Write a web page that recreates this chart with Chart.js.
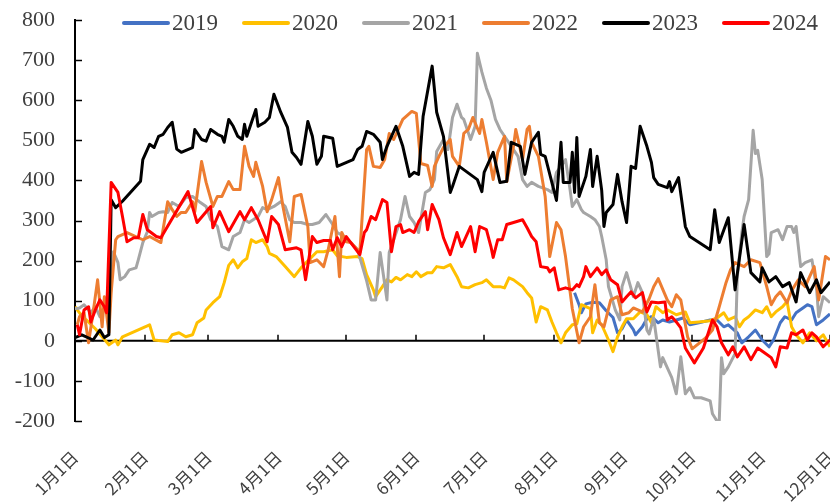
<!DOCTYPE html>
<html>
<head>
<meta charset="utf-8">
<script src="https://cdn.jsdelivr.net/npm/chart.js@4.4.1/dist/chart.umd.min.js"></script>
<style>
  html, body { margin: 0; padding: 0; background: #fff; }
  #wrap { width: 830px; height: 504px; }
</style>
</head>
<body>
<div id="wrap"><canvas id="chart" width="830" height="504"></canvas></div>
<script>
// ----- Data (day of year, value) -----
const years = ["2019", "2020", "2021", "2022", "2023", "2024"];
const monthDays = [0, 31, 59, 90, 120, 151, 181, 212, 243, 273, 304, 334];
const monthLabels = ["1月1日", "2月1日", "3月1日", "4月1日", "5月1日", "6月1日",
  "7月1日", "8月1日", "9月1日", "10月1日", "11月1日", "12月1日"];
const yTicks = [-200, -100, 0, 100, 200, 300, 400, 500, 600, 700, 800];

const s2019 = [[221,120],[223,90],[224,70],[226,92],[229,96],[232,95],[235,75],[238,58],[240,20],[242,30],[244,52],[247,28],[248,15],[251,35],[253,55],[255,60],[258,45],[260,52],[263,47],[266,52],[269,57],[272,40],[276,45],[281,52],[284,52],[287,35],[289,40],[293,20],[295,-5],[298,10],[301,27],[304,2],[307,-15],[309,2],[312,45],[314,60],[317,52],[319,70],[322,82],[324,90],[326,85],[328,40],[331,52],[334,67]];

const s2020 = [[0,85],[1,77],[4,55],[5,52],[9,30],[12,10],[15,-10],[18,2],[19,-10],[21,10],[33,40],[35,2],[41,-2],[43,15],[46,20],[49,10],[52,15],[54,45],[57,57],[58,77],[61,95],[64,110],[66,145],[68,188],[70,202],[72,182],[74,197],[76,205],[78,252],[80,245],[83,252],[85,235],[86,218],[89,210],[93,185],[97,160],[100,182],[104,205],[107,222],[110,222],[114,227],[116,212],[120,208],[125,210],[127,205],[129,165],[132,127],[133,110],[136,135],[138,152],[140,147],[142,158],[144,152],[147,165],[149,160],[151,172],[153,160],[156,170],[158,170],[160,185],[163,182],[166,190],[169,160],[171,135],[174,132],[177,140],[180,145],[182,152],[185,135],[188,135],[190,132],[192,157],[194,152],[198,135],[200,120],[202,107],[204,47],[206,85],[209,77],[211,47],[213,20],[215,-5],[217,20],[220,40],[222,42],[224,90],[228,80],[229,20],[231,52],[233,40],[236,2],[238,-27],[240,10],[242,35],[244,55],[247,55],[250,72],[253,65],[255,45],[257,85],[260,70],[262,77],[266,65],[270,72],[272,45],[276,47],[281,50],[284,57],[287,70],[289,52],[292,60],[294,35],[296,52],[298,60],[301,77],[304,70],[306,85],[308,60],[310,72],[313,85],[315,98],[317,35],[319,15],[322,-5],[325,20],[328,0],[331,15],[334,-15]];

const s2021 = [[0,80],[2,82],[4,90],[7,70],[9,85],[11,60],[13,80],[15,60],[17,222],[19,195],[20,152],[22,160],[24,177],[27,182],[28,202],[30,245],[32,272],[33,320],[34,310],[37,320],[39,322],[41,320],[43,345],[46,335],[49,357],[52,360],[55,347],[58,335],[60,302],[63,285],[65,235],[68,227],[70,260],[73,270],[75,302],[77,295],[81,310],[83,332],[85,327],[88,335],[91,347],[93,335],[95,302],[97,295],[100,295],[103,290],[105,290],[108,295],[111,315],[114,290],[116,270],[119,260],[122,245],[125,227],[129,150],[131,102],[133,102],[135,220],[138,102],[139,220],[141,252],[144,302],[146,360],[148,310],[150,295],[152,270],[155,370],[157,377],[159,402],[160,472],[163,502],[165,477],[167,557],[169,590],[171,557],[172,552],[175,502],[177,535],[178,717],[180,670],[182,630],[184,600],[186,552],[188,527],[191,502],[193,485],[196,460],[198,402],[200,385],[202,395],[205,385],[209,377],[211,370],[213,420],[215,435],[217,452],[219,377],[220,335],[222,352],[224,327],[225,320],[228,310],[230,302],[232,285],[233,260],[235,202],[236,135],[239,77],[241,52],[242,135],[244,170],[247,110],[249,145],[251,120],[253,27],[254,17],[256,57],[259,-65],[260,-42],[262,-67],[264,-92],[266,-132],[268,-40],[270,-132],[272,-117],[274,-142],[277,-142],[281,-150],[282,-182],[284,-200],[285,-200],[286,-42],[287,-82],[289,-65],[292,-32],[293,160],[295,270],[296,310],[298,352],[300,525],[301,467],[302,475],[304,402],[306,210],[307,217],[308,270],[311,277],[313,252],[315,285],[317,285],[318,270],[319,285],[321,185],[323,195],[326,202],[328,135],[329,60],[331,110],[334,95]];

const s2022 = [[1,40],[2,60],[4,70],[6,-5],[8,70],[10,152],[12,35],[13,110],[15,20],[16,120],[18,252],[19,260],[23,270],[30,252],[33,260],[38,245],[41,347],[43,327],[45,310],[47,320],[49,320],[52,347],[53,322],[56,447],[58,395],[61,335],[63,360],[65,360],[68,397],[70,377],[73,377],[75,485],[77,435],[79,410],[80,445],[83,385],[85,322],[87,352],[90,407],[92,335],[95,247],[97,360],[100,365],[103,285],[104,195],[107,202],[110,185],[112,227],[115,310],[117,160],[118,270],[120,247],[122,245],[125,227],[126,220],[129,477],[130,485],[132,435],[135,432],[137,452],[139,517],[141,502],[145,552],[149,572],[151,567],[153,442],[156,437],[158,385],[159,435],[161,460],[163,482],[166,502],[167,460],[170,435],[172,517],[174,527],[176,557],[179,517],[180,552],[182,495],[185,402],[187,470],[190,510],[191,397],[194,485],[195,527],[198,452],[200,527],[201,535],[202,495],[205,460],[208,360],[210,210],[213,295],[215,277],[217,210],[220,80],[223,-5],[225,35],[228,60],[230,140],[232,45],[234,35],[237,102],[240,110],[242,65],[245,70],[247,82],[251,72],[254,105],[256,135],[258,155],[262,102],[264,85],[266,115],[268,102],[271,10],[273,-20],[279,7],[282,27],[285,85],[288,145],[290,177],[292,195],[296,185],[299,202],[303,195],[306,135],[308,90],[310,110],[312,122],[315,95],[317,125],[320,152],[323,135],[327,185],[329,102],[332,210],[334,202]];

const s2023 = [[0,8],[3,15],[8,2],[11,27],[13,8],[15,15],[16,352],[18,332],[21,348],[29,398],[30,452],[33,490],[35,482],[37,510],[39,515],[41,532],[43,545],[45,478],[47,470],[52,482],[53,527],[56,502],[58,498],[60,527],[63,515],[65,510],[66,495],[68,552],[70,535],[72,510],[74,502],[75,540],[76,510],[80,577],[81,535],[84,545],[86,557],[88,615],[91,570],[94,532],[96,470],[98,457],[100,440],[103,547],[105,510],[107,440],[109,460],[110,510],[114,505],[116,435],[123,452],[125,477],[127,485],[129,522],[132,515],[135,495],[136,452],[138,485],[142,535],[145,485],[148,410],[150,420],[152,415],[154,560],[158,685],[160,570],[163,510],[166,370],[167,385],[170,435],[178,402],[180,372],[181,420],[185,470],[188,395],[191,398],[193,495],[197,485],[199,415],[202,495],[205,520],[206,465],[208,460],[213,350],[215,495],[216,395],[219,395],[220,470],[221,370],[222,507],[223,360],[226,410],[228,477],[229,385],[231,460],[233,375],[234,285],[235,320],[238,340],[240,415],[242,347],[244,295],[246,435],[248,430],[250,535],[253,485],[255,445],[256,407],[258,390],[262,382],[263,397],[264,372],[267,407],[270,285],[272,260],[281,227],[283,327],[285,245],[289,307],[292,127],[296,290],[299,170],[303,147],[304,182],[307,147],[310,160],[313,135],[316,145],[319,97],[321,170],[325,120],[328,152],[330,120],[334,147]];

const s2024 = [[1,40],[2,15],[4,77],[6,85],[7,47],[9,77],[11,102],[13,85],[14,70],[16,395],[19,370],[21,310],[23,247],[26,257],[28,257],[30,315],[32,277],[36,260],[38,257],[50,372],[54,295],[60,335],[61,282],[64,322],[68,272],[73,322],[75,302],[78,332],[81,302],[85,247],[87,310],[90,290],[93,227],[98,232],[100,227],[102,152],[105,260],[107,245],[110,250],[113,250],[114,227],[116,257],[118,235],[120,260],[122,245],[126,215],[128,270],[129,277],[131,310],[133,302],[136,352],[138,345],[140,222],[142,285],[144,290],[145,270],[148,277],[150,270],[152,297],[155,322],[156,277],[158,340],[161,302],[163,257],[166,215],[169,270],[171,235],[175,285],[177,222],[179,285],[182,277],[184,235],[185,208],[187,252],[189,252],[191,290],[194,295],[198,302],[200,282],[202,260],[204,247],[206,185],[209,182],[210,172],[212,182],[214,127],[217,132],[220,127],[222,140],[223,135],[225,160],[226,185],[228,160],[231,182],[233,165],[235,177],[237,152],[240,140],[242,97],[244,110],[246,122],[248,107],[251,120],[253,72],[255,97],[258,95],[261,97],[262,52],[264,60],[266,47],[268,32],[270,-18],[274,-55],[278,-18],[282,52],[284,35],[286,-5],[289,-35],[291,-15],[293,-40],[296,-15],[299,-47],[302,-18],[305,-30],[308,-42],[310,-65],[312,-15],[315,-18],[317,20],[319,15],[322,27],[324,2],[326,20],[328,10],[331,-15],[334,2]];

const seriesList = [s2019, s2020, s2021, s2022, s2023, s2024];
const colors = ["#4472C4", "#FFC000", "#A5A5A5", "#ED7D31", "#000000", "#FF0000"];

const textColor = "#404040";
const serif = "'Liberation Serif', 'DejaVu Serif', serif";

// ----- Axis line at zero + inner tick marks -----
const axisPlugin = {
  id: "axisMarks",
  beforeDatasetsDraw(chart) {
    const { ctx, chartArea, scales } = chart;
    const x = scales.x, y = scales.y;
    const y0 = y.getPixelForValue(0);
    ctx.save();
    ctx.strokeStyle = "#000";
    ctx.lineWidth = 2;
    ctx.beginPath();
    ctx.moveTo(chartArea.left, y0);
    ctx.lineTo(chartArea.right, y0);
    ctx.stroke();
    ctx.lineWidth = 1.5;
    monthDays.forEach(d => {
      const px = Math.round(x.getPixelForValue(d));
      ctx.beginPath();
      ctx.moveTo(px, y0);
      ctx.lineTo(px, y0 - 6);
      ctx.stroke();
    });
    yTicks.forEach(v => {
      const py = Math.round(y.getPixelForValue(v)) + 0.5;
      ctx.beginPath();
      ctx.moveTo(chartArea.left, py);
      ctx.lineTo(chartArea.left + 7, py);
      ctx.stroke();
    });
    ctx.restore();
  }
};

// ----- Legend drawn over the plot -----
const legendPlugin = {
  id: "topLegend",
  afterDraw(chart) {
    const ctx = chart.ctx;
    ctx.save();
    ctx.font = "23px " + serif;
    ctx.textBaseline = "middle";
    ctx.textAlign = "left";
    let x = 122;
    const yMid = 23;
    chart.data.datasets.forEach(ds => {
      ctx.strokeStyle = ds.borderColor;
      ctx.lineWidth = 4;
      ctx.lineCap = "round";
      ctx.beginPath();
      ctx.moveTo(x + 2, yMid);
      ctx.lineTo(x + 46, yMid);
      ctx.stroke();
      ctx.fillStyle = textColor;
      ctx.fillText(ds.label, x + 50, yMid + 1);
      x += 50 + ctx.measureText(ds.label).width + 24;
    });
    ctx.restore();
  }
};

const ctx = document.getElementById("chart").getContext("2d");
new Chart(ctx, {
  type: "line",
  data: {
    datasets: years.map((yr, i) => ({
      label: yr,
      data: seriesList[i].map(p => ({ x: p[0], y: p[1] })),
      borderColor: colors[i],
      backgroundColor: colors[i],
      borderWidth: 3,
      borderJoinStyle: "round",
      pointRadius: 0,
      tension: 0,
      order: years.length - i
    }))
  },
  options: {
    responsive: false,
    animation: false,
    devicePixelRatio: 1,
    layout: { padding: { top: 20, left: 0, right: 0, bottom: 0 } },
    plugins: {
      legend: { display: false },
      tooltip: { enabled: false }
    },
    scales: {
      x: {
        type: "linear",
        min: 0,
        max: 334,
        grid: { display: false },
        border: { display: false },
        afterBuildTicks: s => { s.ticks = monthDays.map(v => ({ value: v })); },
        afterFit: s => { s.height = 83; s.paddingLeft = 0; s.paddingRight = 0; },
        ticks: {
          autoSkip: false,
          minRotation: 45,
          maxRotation: 45,
          padding: 18,
          color: textColor,
          font: { family: "'Noto Sans CJK SC', sans-serif", size: 17 },
          callback: v => monthLabels[monthDays.indexOf(v)]
        }
      },
      y: {
        min: -200,
        max: 800,
        grid: { display: false },
        border: { display: true, color: "#000", width: 2 },
        afterBuildTicks: s => { s.ticks = yTicks.map(v => ({ value: v })); },
        afterFit: s => { s.width = 75; s.paddingTop = 0; s.paddingBottom = 0; },
        ticks: {
          padding: 12,
          color: textColor,
          font: { family: serif, size: 22 }
        }
      }
    }
  },
  plugins: [axisPlugin, legendPlugin]
});
</script>
</body>
</html>
